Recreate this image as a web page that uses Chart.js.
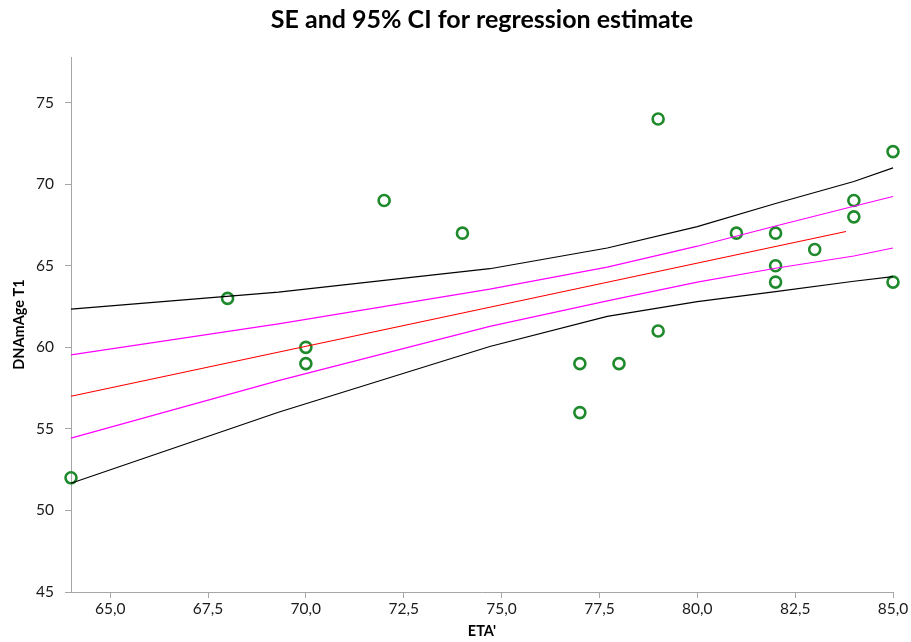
<!DOCTYPE html>
<html>
<head>
<meta charset="utf-8">
<script src="https://cdn.jsdelivr.net/npm/chart.js@4/dist/chart.umd.min.js"></script>
<style>
  html, body { margin: 0; padding: 0; background: #fff; }
  #wrap { width: 911px; height: 642px; }
</style>
</head>
<body>
<div id="wrap"><canvas id="chart" width="911" height="642"></canvas></div>
<script>
// observed data points (ETA', DNAmAge T1)
const etaValues = [64, 68, 70, 70, 72, 74, 77, 77, 78, 79, 79, 81, 82, 82, 82, 83, 84, 84, 85, 85];
const ageValues = [52, 63, 60, 59, 69, 67, 59, 56, 59, 74, 61, 67, 67, 65, 64, 66, 69, 68, 72, 64];

// regression line
const fitX = [64, 83.8];
const fitY = [57.0, 67.1];

// SE and 95% CI bands
const bandX = [64, 69.3, 74.7, 77.7, 80, 82, 84, 85];
const seUpper = [59.54, 61.44, 63.57, 64.92, 66.2, 67.44, 68.65, 69.25];
const seLower = [54.43, 57.96, 61.28, 62.85, 64.0, 64.85, 65.6, 66.09];
const ciUpper = [62.34, 63.39, 64.82, 66.09, 67.4, 68.82, 70.17, 71.0];
const ciLower = [51.67, 56.02, 60.05, 61.9, 62.8, 63.42, 64.05, 64.34];

// tick labels
const xTicks = [65, 67.5, 70, 72.5, 75, 77.5, 80, 82.5, 85];
const yTicks = [45, 50, 55, 60, 65, 70, 75];

function pairs(xs, ys) {
    return xs.map((x, i) => ({ x: x, y: ys[i] }));
}

function lineSet(label, xs, ys, color) {
    return {
        type: 'line',
        label: label,
        data: pairs(xs, ys),
        borderColor: color,
        borderWidth: 1.2,
        pointRadius: 0,
        fill: false,
        tension: 0,
        clip: false
    };
}

const axisGray = '#a6a6a6';
const tickFont = { family: 'Lato', size: 15.5 };

new Chart(document.getElementById('chart'), {
    type: 'scatter',
    data: {
        datasets: [
            lineSet('95% CI upper', bandX, ciUpper, '#000000'),
            lineSet('SE upper', bandX, seUpper, '#ff00ff'),
            lineSet('Estimate', fitX, fitY, '#ff0000'),
            lineSet('SE lower', bandX, seLower, '#ff00ff'),
            lineSet('95% CI lower', bandX, ciLower, '#000000'),
            {
                label: 'DNAmAge T1',
                data: pairs(etaValues, ageValues),
                pointStyle: 'circle',
                pointRadius: 5.5,
                pointBorderWidth: 2.6,
                borderColor: '#1f8a2b',
                backgroundColor: 'rgba(255,255,255,0)',
                pointHoverRadius: 5.5,
                clip: false
            }
        ]
    },
    options: {
        responsive: false,
        animation: false,
        layout: { padding: { left: 0, right: 18, top: 0, bottom: 0 } },
        plugins: {
            legend: { display: false },
            tooltip: { enabled: false },
            title: {
                display: true,
                fullSize: false,
                text: 'SE and 95% CI for regression estimate',
                color: '#000',
                font: { family: 'Lato', size: 25, weight: 'bold' },
                padding: { top: 5, bottom: 22 }
            }
        },
        scales: {
            x: {
                type: 'linear',
                min: 64,
                max: 85,
                afterBuildTicks: (scale) => { scale.ticks = xTicks.map(v => ({ value: v })); },
                afterFit: (scale) => { scale.height = 50; },
                border: { color: axisGray, width: 1 },
                grid: { drawOnChartArea: false, drawTicks: true, tickLength: 6, color: axisGray },
                ticks: {
                    color: '#1a1a1a',
                    font: tickFont,
                    padding: 2,
                    maxRotation: 0,
                    callback: (v) => Number(v).toFixed(1).replace('.', ',')
                },
                title: {
                    display: true,
                    text: "ETA'",
                    color: '#000',
                    font: { family: 'Lato', size: 14.5, weight: 'bold' },
                    padding: { top: 0, bottom: 2 }
                }
            },
            y: {
                type: 'linear',
                min: 45,
                max: 77.8,
                afterBuildTicks: (scale) => { scale.ticks = yTicks.map(v => ({ value: v })); },
                afterFit: (scale) => { scale.width = 71; },
                border: { color: axisGray, width: 1 },
                grid: { drawOnChartArea: false, drawTicks: true, tickLength: 6, color: axisGray },
                ticks: {
                    color: '#1a1a1a',
                    font: tickFont,
                    padding: 11,
                    callback: (v) => String(v)
                },
                title: {
                    display: true,
                    text: 'DNAmAge T1',
                    color: '#000',
                    font: { family: 'Lato', size: 14.5, weight: 'bold' },
                    padding: { top: 11, bottom: 0 }
                }
            }
        }
    }
});
</script>
</body>
</html>
